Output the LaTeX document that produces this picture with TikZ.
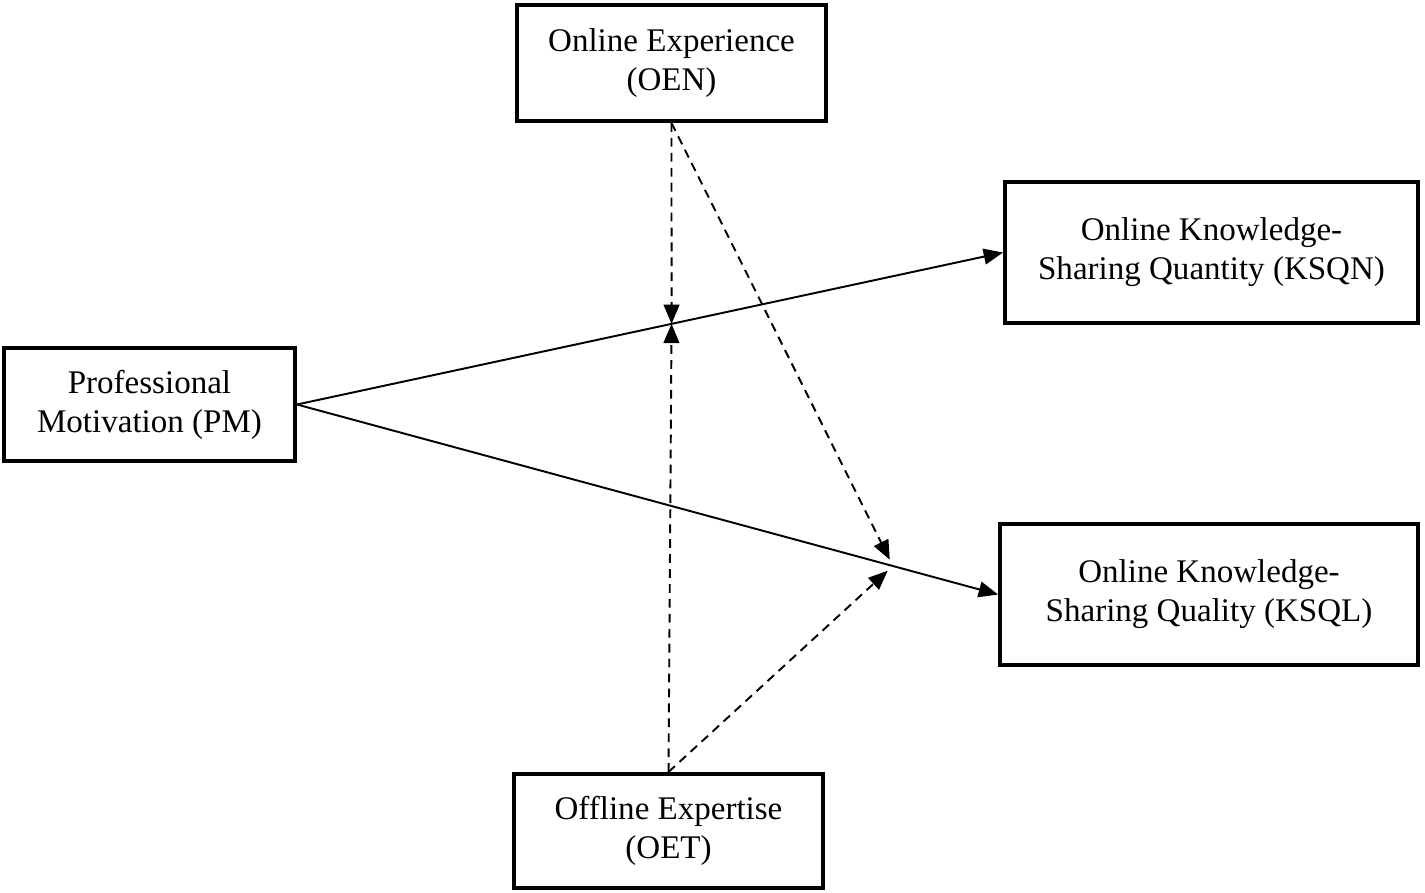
\documentclass[tikz,border=0pt]{standalone}
\usepackage{fontspec}
\setmainfont{Liberation Serif}
\usetikzlibrary{arrows.meta,calc}

\tikzset{
  box/.style={draw, line width=2.3pt, align=center, font=\fontsize{18.8}{22.3}\selectfont},
  direct/.style={line width=1.1pt, -{Triangle[length=11pt,width=9pt]}},
  moderate/.style={direct, dash pattern=on 5pt off 3.5pt}
}

\begin{document}
\begin{tikzpicture}[x=0.02cm,y=-0.02cm]
\useasboundingbox (0,0) rectangle (1425,892);
% constructs
\node[box, minimum width=6.18cm, minimum height=2.32cm] (OEN) at (671.5,63) {Online Experience\\(OEN)};
\node[box, minimum width=8.26cm, minimum height=2.82cm] (KSQN) at (1211.5,252.5) {Online Knowledge-\\Sharing Quantity (KSQN)};
\node[box, minimum width=5.82cm, minimum height=2.26cm] (PM) at (149.5,404.5) {Professional\\Motivation (PM)};
\node[box, minimum width=8.36cm, minimum height=2.82cm] (KSQL) at (1209,594.5) {Online Knowledge-\\Sharing Quality (KSQL)};
\node[box, minimum width=6.18cm, minimum height=2.28cm] (OET) at (668.5,831) {Offline Expertise\\(OET)};
% direct paths
\draw[direct] (PM.east) -- coordinate[pos=0.5305] (m1) (KSQN.west);
\draw[direct] (PM.east) -- coordinate[pos=0.85] (m2) (KSQL.west);
% moderating paths
\draw[moderate] (OEN.south) -- (m1);
\draw[moderate] (OET.north) -- (m1);
\draw[moderate, shorten >=4pt] (OEN.south) -- (m2);
\draw[moderate, shorten >=4pt] (OET.north) -- (m2);
\end{tikzpicture}
\end{document}
